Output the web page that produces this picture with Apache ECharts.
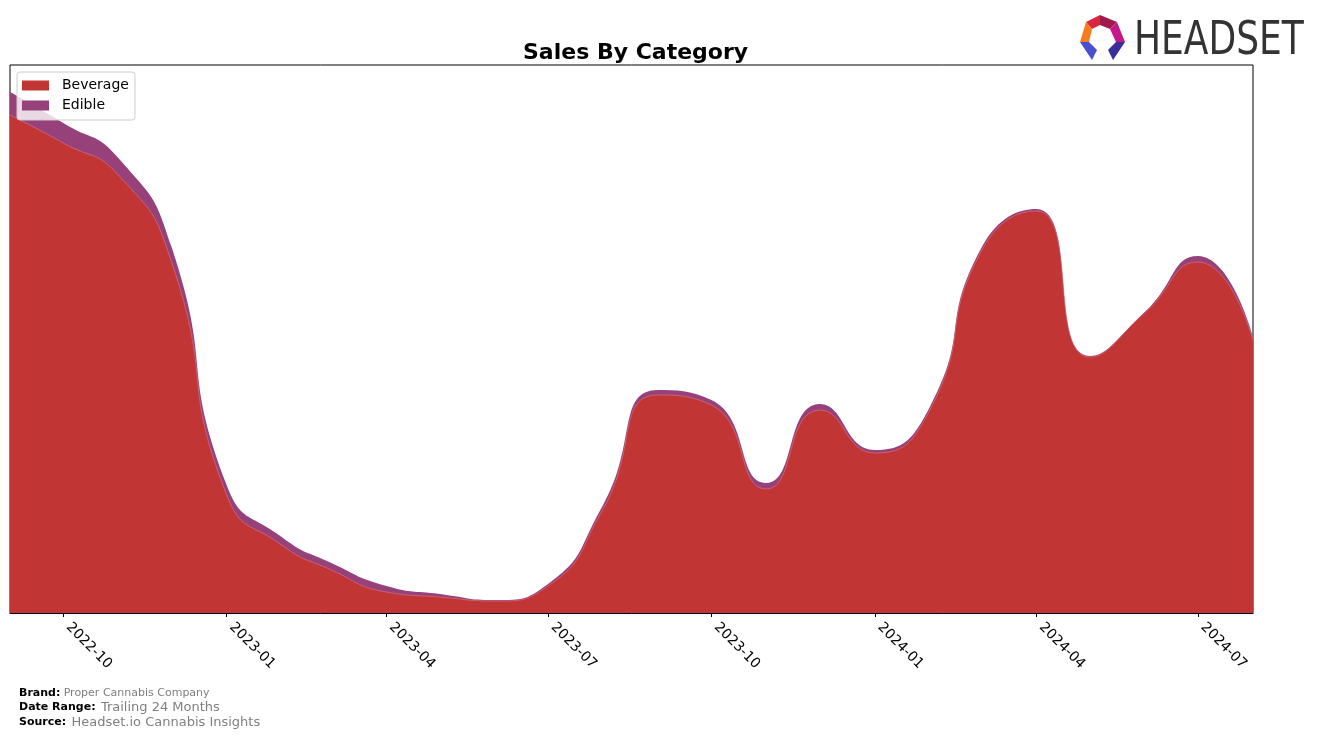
<!DOCTYPE html>
<html>
<head>
<meta charset="utf-8">
<script src="https://cdn.jsdelivr.net/npm/echarts@6/dist/echarts.min.js"></script>
<style>
html,body{margin:0;padding:0;background:#fff;}
#chart{width:1317px;height:739px;}
</style>
</head>
<body>
<div id="chart"></div>
<script>
// Monthly data (relative sales units)
const months = ['2022-09','2022-10','2022-11','2022-12','2023-01','2023-02','2023-03','2023-04','2023-05','2023-06','2023-07','2023-08',
                '2023-09','2023-10','2023-11','2023-12','2024-01','2024-02','2024-03','2024-04','2024-05','2024-06','2024-07','2024-08'];
const beverage = [498,470,438,351,118,68,43,21,16,12,27,104,218,208,124,203,160,203,362,402,256,300,351,273];
const edible   = [23,20,17,15,10,8,7,6,3,1,2,4,5,5,6,6,3,3,3,2,1,1,6,3];
const tickLabels = ['2022-10','2023-01','2023-04','2023-07','2023-10','2024-01','2024-04','2024-07'];

function ts(s){ const p = s.split('-'); return Date.UTC(+p[0], +p[1]-1, 1); }
function fmt(v){ const d = new Date(v); const m = d.getUTCMonth()+1; return d.getUTCFullYear() + '-' + (m<10?'0':'') + m; }

// stacked totals (Edible sits on top of Beverage)
const stackTop = beverage.map((v,i)=>v + edible[i]);

const chart = echarts.init(document.getElementById('chart'), null, {renderer:'canvas'});
const FONT = 'DejaVu Sans';
const tickVals = tickLabels.map(ts);
const SMOOTH = 0.55;

chart.setOption({
  backgroundColor:'#fff',
  animation:false,
  title:{text:'Sales By Category', left:518, top:37,
    textStyle:{fontFamily:FONT, fontSize:22, fontWeight:'bold', color:'#000'}},
  legend:{
    left:17, top:72, orient:'vertical', icon:'rect', itemWidth:27, itemHeight:10, itemGap:5,
    padding:[6,6,7,5], borderColor:'#ccc', borderWidth:1, borderRadius:3,
    backgroundColor:'rgba(255,255,255,0.8)',
    textStyle:{fontFamily:FONT, fontSize:14, color:'#000', padding:[0,0,0,8], lineHeight:15},
    data:['Beverage','Edible']
  },
  grid:{left:10, right:64, top:65, bottom:126, show:true, borderColor:'#000', borderWidth:1, backgroundColor:'#fff'},
  xAxis:{
    type:'value', min:ts(months[0]), max:ts(months[months.length-1]),
    axisLine:{show:true, lineStyle:{color:'#000'}},
    axisTick:{show:true, length:4, lineStyle:{color:'#000'}, customValues:tickVals},
    axisLabel:{customValues:tickVals, rotate:-45, fontFamily:FONT, fontSize:14, color:'#000', margin:17,
      verticalAlign:'bottom', formatter:function(v){return fmt(v);}},
    splitLine:{show:false}
  },
  yAxis:{type:'value', min:0, max:548, show:false, splitLine:{show:false}},
  series:[
    {name:'Edible', type:'line', z:1, smooth:SMOOTH, showSymbol:false,
     lineStyle:{width:0}, itemStyle:{color:'#97417b'},
     areaStyle:{color:'#97417b', opacity:1},
     data:months.map((m,i)=>[ts(m), stackTop[i]])},
    {name:'Beverage', type:'line', z:2, smooth:SMOOTH, showSymbol:false,
     lineStyle:{width:0.6, color:'#d87a8a'}, itemStyle:{color:'#c23535'},
     areaStyle:{color:'#c23535', opacity:1},
     data:months.map((m,i)=>[ts(m), beverage[i]])}
  ],
  graphic:[
    {type:'polygon', shape:{points:[[1086,22],[1100,15],[1100,25],[1092,29]]}, style:{fill:'#d8283c'}},
    {type:'polygon', shape:{points:[[1100,15],[1117,22],[1110,29],[1100,25]]}, style:{fill:'#a01a4a'}},
    {type:'polygon', shape:{points:[[1117,22],[1125,42],[1116,42],[1110,29]]}, style:{fill:'#c4178a'}},
    {type:'polygon', shape:{points:[[1086,22],[1092,29],[1089,42],[1080,42]]}, style:{fill:'#f47b20'}},
    {type:'polygon', shape:{points:[[1080,42],[1089,42],[1097,50],[1092,60]]}, style:{fill:'#4a4fd0'}},
    {type:'polygon', shape:{points:[[1116,42],[1125,42],[1113,60],[1108,50]]}, style:{fill:'#3a2f9a'}},
    {type:'text', left:1134, top:19, style:{text:'HEADSET', fontFamily:'DejaVu Sans Condensed', fontSize:46, fill:'#333'}, scaleX:0.87},
    {type:'text', left:19, top:687, style:{rich:{b:{fontFamily:FONT, fontSize:11, fontWeight:'bold', fill:'#000'}, g:{fontFamily:FONT, fontSize:11, fill:'#808080'}}, text:'{b|Brand:} {g|Proper Cannabis Company}'}},
    {type:'text', left:19, top:701, style:{rich:{b:{fontFamily:FONT, fontSize:11, fontWeight:'bold', fill:'#000'}, g:{fontFamily:FONT, fontSize:13, fill:'#808080', padding:[0,0,0,2]}}, text:'{b|Date Range:} {g|Trailing 24 Months}'}},
    {type:'text', left:19, top:716, style:{rich:{b:{fontFamily:FONT, fontSize:11, fontWeight:'bold', fill:'#000'}, g:{fontFamily:FONT, fontSize:13, fill:'#808080', padding:[0,0,0,2]}}, text:'{b|Source:} {g|Headset.io Cannabis Insights}'}}
  ]
});
</script>
</body>
</html>
